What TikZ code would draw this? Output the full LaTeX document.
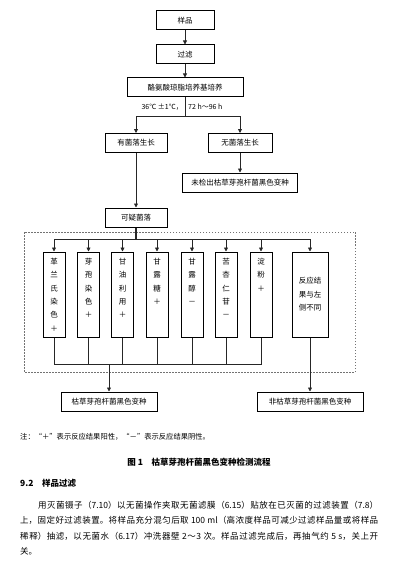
\documentclass[tikz,border=0pt]{standalone}
\usepackage{fontspec}
\setmainfont{Noto Sans CJK SC}
\XeTeXlinebreaklocale "zh"
\XeTeXlinebreakskip=0pt plus 1pt
\usetikzlibrary{arrows.meta, positioning}
\tikzset{
  % riquadro del flusso
  box/.style={draw=black, line width=1pt, minimum height=19pt, inner sep=1pt,
    fill=white, font=\fontsize{7.5}{9}\selectfont},
  % colonna di una prova
  testcol/.style={box, minimum width=22pt, minimum height=85pt},
  coltext/.style={font=\fontsize{7.5}{13.3}\selectfont, align=center, inner sep=0pt},
  % collegamenti
  link/.style={line width=0.8pt, black!85},
  flow/.style={link, -{Triangle[length=4pt, width=4pt]}},
  % riquadro tratteggiato
  dashbox/.style={draw=black!55, line width=0.6pt, dash pattern=on 1.5pt off 1.5pt},
  % etichette e testi della pagina
  cond/.style={font=\fontsize{7}{8}\selectfont, inner sep=0pt},
  note/.style={font=\fontsize{7.3}{8}\selectfont, anchor=west, inner sep=0pt},
  heading/.style={font=\bfseries\fontsize{8.5}{10}\selectfont, inner sep=0pt},
  bodytext/.style={font=\fontsize{8.5}{15.3}\selectfont, text width=358pt,
    align=justify, inner sep=0pt, anchor=north west},
}

\begin{document}
\begin{tikzpicture}[x=1pt, y=-1pt]
  \useasboundingbox (0,0) rectangle (402,567);
  \node[box, minimum width=58pt] (sample) at (185,20.5) {样品};
  \node[box, minimum width=58pt] (filter) at (185,54.5) {过滤};
  \node[box, minimum width=116pt] (medium) at (185,87.5) {酪氨酸琼脂培养基培养};
  \draw[flow] (sample) -- (filter);
  \draw[flow] (filter) -- (medium);
  \coordinate (split) at (185,116);
  \node[cond, anchor=east] (tempa) at (183,107) {36℃ ±1℃，};
  \node[cond, anchor=west] (tempb) at (188,107) {72 h～96 h};
  \node[box, minimum width=62pt] (grow) at (136,143) {有菌落生长};
  \node[box, minimum width=64pt] (nogrow) at (240,143) {无菌落生长};
  \node[box, minimum width=115pt] (notfound) at (240,182.5) {未检出枯草芽孢杆菌黑色变种};
  \node[box, minimum width=62pt] (suspect) at (136,217.5) {可疑菌落};
  \draw[link] (medium) -- (split);
  \draw[flow] (split) -| (grow);
  \draw[flow] (split) -| (nogrow);
  \draw[flow] (nogrow) -- (notfound);
  \draw[flow] (grow) -- (suspect);
  % prove biochimiche
  \draw[dashbox] (24,232) rectangle (355,372);
  \coordinate (bus) at (136,239);
  \draw[link, line width=1.3pt] (suspect) -- (bus);
  \foreach \i/\cx/\txt in {1/54/{革\\兰\\氏\\染\\色\\＋}, 2/88.5/{芽\\孢\\染\\色\\＋},
      3/122.5/{甘\\油\\利\\用\\＋}, 4/157/{甘\\露\\糖\\＋}, 5/192/{甘\\露\\醇\\－},
      6/226/{苦\\杏\\仁\\苷\\－}, 7/261/{淀\\粉\\＋}} {
    \node[testcol] (c\i) at (\cx,294.5) {};
    \node[coltext, anchor=north] (t\i) at ([yshift=-6.5pt]c\i.north) {\txt};
    \draw[flow] (bus) -| (c\i);
  }
  \node[testcol, minimum width=36pt, align=center,
    font=\fontsize{7.5}{13.5}\selectfont] (c8) at (310,294.5) {反应结\\果与左\\侧不同};
  \draw[flow] (bus) -| (c8);
  \coordinate (join) at (109,364);
  \foreach \i in {1,...,7} \draw[link] (c\i.south) |- (join);
  \node[box, minimum width=96pt] (bsub) at (109,401.5) {枯草芽孢杆菌黑色变种};
  \node[box, minimum width=106pt] (nonbsub) at (310,401.5) {非枯草芽孢杆菌黑色变种};
  \draw[flow] (join) -- (bsub);
  \draw[flow] (c8) -- (nonbsub);
  % testi sotto la figura
  \node[note] (remark) at (20,437) {注：“＋”表示反应结果阳性，“－”表示反应结果阴性。};
  \node[heading] (caption) at (199,462) {图 1\quad 枯草芽孢杆菌黑色变种检测流程};
  \node[heading, anchor=west] (section) at (20,483) {9.2\quad 样品过滤};
  \node[bodytext] (para) at (20,501) {\hspace*{2.1em}用灭菌镊子（7.10）以无菌操作夹取无菌滤膜（6.15）贴放在已灭菌的过滤装置（7.8）\linebreak
    上，固定好过滤装置。将样品充分混匀后取 100 ml（高浓度样品可减少过滤样品量或将样品\linebreak
    稀释）抽滤，以无菌水（6.17）冲洗器壁 2～3 次。样品过滤完成后，再抽气约 5 s，关上开\linebreak
    关。};
\end{tikzpicture}
\end{document}
